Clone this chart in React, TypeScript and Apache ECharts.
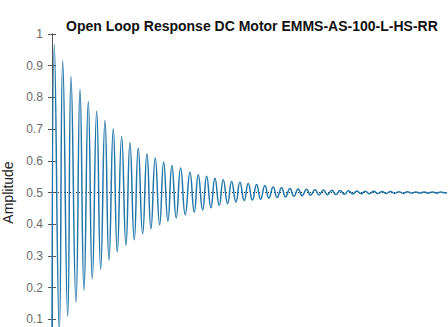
import React, { useEffect, useRef } from "react";
import * as echarts from "echarts";

const titleText = "Open Loop Response DC Motor EMMS-AS-100-L-HS-RR";
const yAxisName = "Amplitude";

// Step response: start, peaks, troughs, end
const startPoint = [0, 0];
const endPoint = [8, 0.5];
const peakTimes = [
  0.047, 0.217, 0.385, 0.567, 0.735, 0.905, 1.073, 1.241, 1.411, 1.579, 1.747,
  1.923, 2.091, 2.261, 2.429, 2.605, 2.794, 2.962, 3.132, 3.3, 3.468, 3.638,
  3.806, 3.974, 4.144, 4.312, 4.48, 4.65, 4.818, 4.986, 5.156, 5.326, 5.496,
  5.666, 5.836, 6.006, 6.176, 6.346, 6.516, 6.686, 6.856, 7.026, 7.196, 7.366,
  7.536, 7.706, 7.877,
];
const peakValues = [
  0.967, 0.916, 0.866, 0.826, 0.787, 0.756, 0.727, 0.701, 0.677, 0.657, 0.64,
  0.622, 0.609, 0.596, 0.585, 0.577, 0.564, 0.556, 0.551, 0.545, 0.54, 0.535,
  0.532, 0.528, 0.525, 0.522, 0.517, 0.515, 0.513, 0.511, 0.51, 0.5088, 0.5078,
  0.5069, 0.506, 0.5053, 0.5047, 0.5041, 0.5036, 0.5032, 0.5028, 0.5025, 0.5022,
  0.5019, 0.5017, 0.5015, 0.5013,
];
const troughTimes = [
  0.148, 0.318, 0.486, 0.648, 0.816, 0.986, 1.154, 1.322, 1.498, 1.666, 1.836,
  2.004, 2.18, 2.348, 2.516, 2.699, 2.881, 3.051, 3.219, 3.387, 3.557, 3.725,
  3.893, 4.059, 4.225, 4.393, 4.561, 4.731, 4.899, 5.067, 5.237, 5.411, 5.581,
  5.751, 5.921, 6.091, 6.261, 6.431, 6.601, 6.771, 6.941, 7.111, 7.281, 7.451,
  7.621, 7.792, 7.962,
];
const troughValues = [
  0.06, 0.11, 0.154, 0.192, 0.228, 0.258, 0.287, 0.312, 0.333, 0.351, 0.37,
  0.386, 0.398, 0.41, 0.42, 0.43, 0.438, 0.445, 0.452, 0.459, 0.465, 0.47,
  0.475, 0.476, 0.479, 0.482, 0.484, 0.486, 0.488, 0.49, 0.491, 0.492, 0.493,
  0.4938, 0.4945, 0.4951, 0.4957, 0.4962, 0.4966, 0.497, 0.4973, 0.4976, 0.4979,
  0.4981, 0.4983, 0.4985, 0.4987,
];
const steadyState = 0.5;
const xMin = 0;
const xMax = 8;
const yMin = 0;
const yMax = 1;

export default function App() {
  const ref = useRef<HTMLDivElement>(null);
  useEffect(() => {
    if (!ref.current) return;
    const chart = echarts.init(ref.current, null, { renderer: "svg" });
    const data: number[][] = [startPoint];
    for (let i = 0; i < peakTimes.length; i++) {
      data.push([peakTimes[i], peakValues[i]]);
      data.push([troughTimes[i], troughValues[i]]);
    }
    data.push(endPoint);
    const axisColor = "#555";
    const font = "'Liberation Sans', Arial, Helvetica, sans-serif";
    const tick = { show: true, inside: true, length: 4, lineStyle: { color: axisColor } };
    const line = { show: true, lineStyle: { color: axisColor, width: 1 } };
    chart.setOption({
      animation: false,
      backgroundColor: "#fff",
      title: {
        text: titleText,
        left: 61,
        top: 14,
        textStyle: { fontFamily: font, fontSize: 14, fontWeight: "bold", color: "#111" },
      },
      grid: { left: 52, top: 34, width: 395, height: 317, outerBoundsMode: "none", containLabel: false },
      xAxis: [
        {
          type: "value", min: xMin, max: xMax, interval: 1, position: "top",
          axisLine: line, axisTick: tick, axisLabel: { show: false }, splitLine: { show: false },
        },
        {
          type: "value", min: xMin, max: xMax, interval: 1, position: "bottom",
          axisLine: line, axisTick: tick, axisLabel: { show: false }, splitLine: { show: false },
        },
      ],
      yAxis: [
        {
          type: "value",
          min: yMin,
          max: yMax,
          interval: 0.1,
          position: "left",
          name: yAxisName,
          nameLocation: "middle",
          nameGap: 24,
          nameTextStyle: { fontFamily: font, fontSize: 14, color: "#222" },
          axisLine: line,
          axisTick: tick,
          axisLabel: { fontFamily: font, fontSize: 12, color: "#6a6a6a", margin: 9, showMinLabel: false },
          splitLine: { show: false },
        },
        {
          type: "value", min: yMin, max: yMax, interval: 0.1, position: "right",
          axisLine: line, axisTick: tick, axisLabel: { show: false }, splitLine: { show: false },
        },
      ],
      series: [
        {
          type: "line",
          xAxisIndex: 0,
          yAxisIndex: 0,
          data: [
            [xMin, steadyState],
            [xMax, steadyState],
          ],
          showSymbol: false,
          lineStyle: { color: "#333", width: 1, type: [1, 2] },
          z: 1,
        },
        {
          type: "line",
          xAxisIndex: 0,
          yAxisIndex: 0,
          data,
          showSymbol: false,
          smooth: 0.5,
          lineStyle: { color: "#2277aa", width: 1.5 },
          z: 2,
        },
      ],
    });
    return () => chart.dispose();
  }, []);
  return (
    <div style={{ position: "absolute", left: 0, top: 0, width: 448, height: 327, overflow: "hidden" }}>
      <div ref={ref} style={{ width: 448, height: 360 }} />
    </div>
  );
}
